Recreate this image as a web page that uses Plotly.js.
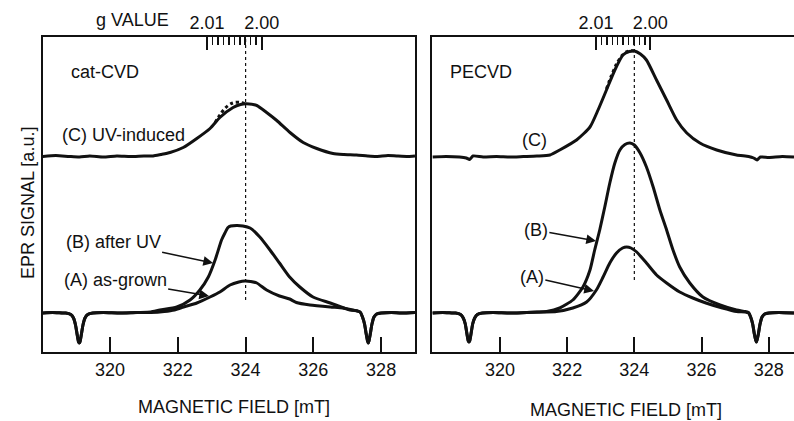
<!DOCTYPE html>
<html>
<head>
<meta charset="utf-8">
<script src="https://cdn.plot.ly/plotly-3.0.1.min.js"></script>
<style>html,body{margin:0;padding:0;background:#fff;overflow:hidden}#chart{width:794px;height:421px}</style>
</head>
<body>
<div id="chart"></div>
<script>
// ---------- data ----------
const fieldTicks = [320, 322, 324, 326, 328];
const gMajor = [2.01, 2.00];
const gMajorLabels = ['2.01', '2.00'];
const gMinor = [2.009, 2.008, 2.007, 2.006, 2.005, 2.004, 2.003, 2.002, 2.001];
const G_TIMES_B = 648.95;   // g x B (mT): g = 2.00 sits at 324.47 mT
const gLine = 324;          // dotted reference line (mT)

// cat-CVD panel
const catA_x = [318.0, 318.3, 318.6, 318.69, 318.84, 318.92, 318.98, 319.03, 319.07, 319.09, 319.11, 319.15, 319.2, 319.26, 319.34, 319.49, 319.8, 320.3, 320.8, 321.2, 321.6, 321.9, 322.17, 322.56, 322.95, 323.24, 323.54, 323.8, 323.98, 324.15, 324.33, 324.62, 325.0, 325.3, 325.5, 325.9, 326.5, 326.87, 327.17, 327.3, 327.38, 327.45, 327.51, 327.56, 327.6, 327.62, 327.64, 327.68, 327.73, 327.79, 327.87, 328.0, 328.3, 328.6, 329.0];
const catA_y = [0, 0.5, 0, 0, -1.5, -5, -12, -22, -29, -30, -29, -22, -12, -5, -1.5, 0, 0.5, 0, 0.5, 0.5, 1.5, 3, 6, 10, 16, 21, 28, 31, 32, 31.5, 30, 23, 17, 14, 10.5, 8, 6, 5, 3, 2, 1, -4, -11, -21, -28, -30, -28, -21, -11, -4, -1, 0, 0.5, 0, 0.5];
const catB_x = [318.0, 318.3, 318.6, 318.69, 318.84, 318.92, 318.98, 319.03, 319.07, 319.09, 319.11, 319.15, 319.2, 319.26, 319.34, 319.49, 319.8, 320.3, 320.8, 321.2, 321.47, 321.97, 322.36, 322.65, 322.9, 323.1, 323.29, 323.39, 323.48, 323.56, 323.75, 323.92, 324.13, 324.42, 324.72, 325.0, 325.3, 325.6, 325.99, 326.5, 327.08, 327.3, 327.38, 327.45, 327.51, 327.56, 327.6, 327.62, 327.64, 327.68, 327.73, 327.79, 327.87, 328.0, 328.3, 328.6, 329.0];
const catB_y = [0, 0.5, 0, 0, -1.5, -5, -12, -22, -29, -30, -29, -22, -12, -5, -1.5, 0, 0.5, 0, 0.5, 1, 3, 6, 13, 23, 36, 53, 73, 80, 85.5, 87, 87.5, 87, 85, 76, 63, 50, 36, 26, 16, 10, 3, 2, 1, -4, -11, -21, -28, -30, -28, -21, -11, -4, -1, 0, 0.5, 0, 0.5];
const catC_x = [318.0, 318.4, 318.8, 319.1, 319.4, 319.8, 320.2, 320.6, 321.0, 321.27, 321.5, 321.77, 322.16, 322.56, 322.95, 323.24, 323.63, 323.85, 324.03, 324.33, 324.62, 324.92, 325.31, 325.7, 326.1, 326.58, 326.9, 327.27, 327.6, 327.86, 328.2, 328.46, 328.8, 329.0];
const catC_y = [0, 1, 0, -0.5, 0.5, -0.5, 0.5, 0, 0.5, 0.5, 2, 4, 9, 18, 28, 39, 49, 52, 52.7, 51, 44, 36, 24, 14, 8, 3, 2, 1.5, 0.5, 0, 1, 0.5, 0, 0.5];
const catCfit_x = [323.1, 323.25, 323.4, 323.55, 323.7, 323.85, 324.0];
const catCfit_y = [34, 42, 48.5, 52.5, 54.2, 54, 52.7];

// PECVD panel
const peA_x = [318.0, 318.3, 318.6, 318.68, 318.83, 318.91, 318.97, 319.02, 319.06, 319.08, 319.1, 319.14, 319.19, 319.25, 319.33, 319.48, 319.8, 320.3, 320.8, 321.3, 321.68, 322.17, 322.58, 322.87, 323.07, 323.27, 323.47, 323.65, 323.77, 323.9, 324.07, 324.36, 324.66, 324.96, 325.35, 325.74, 326.13, 326.62, 327.04, 327.3, 327.4, 327.46, 327.52, 327.57, 327.61, 327.63, 327.65, 327.69, 327.74, 327.8, 327.88, 328.0, 328.3, 328.75];
const peA_y = [0, 0.5, 0, 0, -1.5, -5, -11, -21, -28, -29, -28, -21, -11, -5, -1.5, 0, 0.5, 0, 0.5, 1, 1.5, 5, 11, 23, 36, 50, 60, 65, 66, 65, 61, 50, 38, 30, 21, 15, 10, 5, 1.5, 1, 0, -4, -11, -21, -27, -29, -27, -21, -11, -4, -1, 0, 0.5, 0];
const peB_x = [318.0, 318.3, 318.6, 318.68, 318.83, 318.91, 318.97, 319.02, 319.06, 319.08, 319.1, 319.14, 319.19, 319.25, 319.33, 319.48, 319.8, 320.3, 320.8, 321.1, 321.39, 321.78, 322.17, 322.47, 322.68, 322.82, 322.97, 323.12, 323.27, 323.42, 323.57, 323.72, 323.87, 324.0, 324.17, 324.36, 324.56, 324.76, 324.96, 325.15, 325.35, 325.65, 326.04, 326.55, 327.04, 327.3, 327.4, 327.46, 327.52, 327.57, 327.61, 327.63, 327.65, 327.69, 327.74, 327.8, 327.88, 328.0, 328.3, 328.75];
const peB_y = [0, 0.5, 0, 0, -1.5, -5, -11, -21, -28, -29, -28, -21, -11, -5, -1.5, 0, 0.5, 0, 0.5, 1, 1.5, 5, 13, 26, 43, 63, 83, 106, 130, 150, 163, 168.5, 170, 168, 160, 146, 126, 103, 83, 63, 46, 30, 16, 8, 3, 1.5, 0.5, -4, -11, -21, -27, -29, -27, -21, -11, -4, -1, 0, 0.5, 0];
const peC_x = [318.0, 318.4, 318.8, 319.0, 319.1, 319.2, 319.5, 319.9, 320.3, 320.7, 321.1, 321.49, 321.78, 322.28, 322.68, 322.92, 323.17, 323.42, 323.66, 323.85, 324.0, 324.18, 324.36, 324.66, 324.96, 325.26, 325.56, 325.95, 326.45, 327.04, 327.4, 327.55, 327.65, 327.75, 328.0, 328.4, 328.75];
const peC_y = [0, 0.5, 0, -1, -2.5, 1, 0, 0.5, 0, 0.5, 1, 2, 7, 17, 30, 47, 67, 87, 102, 105.5, 106, 103, 97, 77, 57, 37, 24, 14, 7, 2, 0.5, -1, -3, 0, -0.5, 0.5, 0];
const peCfit_x = [323.17, 323.3, 323.47, 323.62, 323.75, 323.9, 324.0];
const peCfit_y = [68, 80, 93, 101, 105, 106.5, 106];

// ---------- presentation ----------
const C_SHIFT_CAT = 156.5;   // vertical offset of trace (C) in the stack
const C_SHIFT_PE = 156;
const INK = '#111111';
const FONT = {family: 'Liberation Sans, Arial, Helvetica, sans-serif', size: 18, color: INK};
const shift = (arr, d) => arr.map(v => v + d);

function line(x, y, xa, ya, dash, w) {
  return {x: x, y: y, xaxis: xa, yaxis: ya, type: 'scatter', mode: 'lines',
          line: {color: INK, width: w || 3, dash: dash || 'solid', shape: 'spline', smoothing: 0.6},
          hoverinfo: 'skip'};
}

const traces = [
  line(catA_x, catA_y, 'x', 'y'),
  line(catB_x, catB_y, 'x', 'y'),
  line(catC_x, shift(catC_y, C_SHIFT_CAT), 'x', 'y'),
  line(catCfit_x, shift(catCfit_y, C_SHIFT_CAT), 'x', 'y', 'dot', 3),
  line(peA_x, peA_y, 'x2', 'y2'),
  line(peB_x, peB_y, 'x2', 'y2'),
  line(peC_x, shift(peC_y, C_SHIFT_PE), 'x2', 'y2'),
  line(peCfit_x, shift(peCfit_y, C_SHIFT_PE), 'x2', 'y2', 'dot', 3),
  // carriers for the g-value scales
  {x: [null], y: [null], xaxis: 'x3', yaxis: 'y', type: 'scatter', mode: 'lines', hoverinfo: 'skip'},
  {x: [null], y: [null], xaxis: 'x4', yaxis: 'y', type: 'scatter', mode: 'lines', hoverinfo: 'skip'},
  {x: [null], y: [null], xaxis: 'x5', yaxis: 'y2', type: 'scatter', mode: 'lines', hoverinfo: 'skip'},
  {x: [null], y: [null], xaxis: 'x6', yaxis: 'y2', type: 'scatter', mode: 'lines', hoverinfo: 'skip'}
];

const rangeCat = [318.02, 329.0];
const rangePe = [317.98, 328.75];
const yRange = [-39, 276];
const domCat = [43 / 794, 415 / 794];
const domPe = [432 / 794, 1];

const fieldAxis = (dom, range, anchor) => ({
  domain: dom, range: range, anchor: anchor, autorange: false,
  showline: true, mirror: true, linewidth: 2, linecolor: INK,
  ticks: 'inside', ticklen: 15, tickwidth: 2, tickcolor: INK,
  tickvals: fieldTicks, ticktext: fieldTicks.map(String),
  tickfont: FONT, ticklabelstandoff: 0,
  showgrid: false, zeroline: false, fixedrange: true
});
const gAxis = (over, range, vals, labels, len, w) => ({
  overlaying: over, side: 'top', range: range, autorange: false,
  anchor: over === 'x' ? 'y' : 'y2',
  tickvals: vals, ticktext: labels || vals.map(() => ''),
  showticklabels: !!labels,
  ticks: 'inside', ticklen: len, tickwidth: w, tickcolor: INK,
  tickfont: FONT, ticklabelstandoff: 3,
  showline: false, showgrid: false, zeroline: false, fixedrange: true
});

const gMajorB = gMajor.map(g => G_TIMES_B / g);
const gMinorB = gMinor.map(g => G_TIMES_B / g);

const layout = {
  width: 794, height: 421,
  margin: {l: 0, r: 0, t: 37, b: 69},
  paper_bgcolor: '#ffffff', plot_bgcolor: '#ffffff',
  showlegend: false,
  font: FONT,
  xaxis: fieldAxis(domCat, rangeCat, 'y'),
  yaxis: {domain: [0, 1], range: yRange, anchor: 'x', autorange: false,
          showline: true, mirror: true, linewidth: 2, linecolor: INK,
          ticks: '', showticklabels: false, showgrid: false, zeroline: false, fixedrange: true},
  xaxis2: fieldAxis(domPe, rangePe, 'y2'),
  yaxis2: {domain: [0, 1], range: yRange, anchor: 'x2', autorange: false,
           showline: true, mirror: false, linewidth: 2, linecolor: INK,
           ticks: '', showticklabels: false, showgrid: false, zeroline: false, fixedrange: true},
  xaxis3: gAxis('x', rangeCat, gMajorB, gMajorLabels, 13, 2),
  xaxis4: gAxis('x', rangeCat, gMinorB, null, 8, 1.5),
  xaxis5: gAxis('x2', rangePe, gMajorB, gMajorLabels, 13, 2),
  xaxis6: gAxis('x2', rangePe, gMinorB, null, 8, 1.5),
  shapes: [
    {type: 'line', xref: 'x', yref: 'y', x0: gLine, x1: gLine, y0: 13, y1: 276,
     line: {color: INK, width: 1.2, dash: 'dot'}},
    {type: 'line', xref: 'x2', yref: 'y2', x0: gLine, x1: gLine, y0: 33, y1: 276,
     line: {color: INK, width: 1.2, dash: 'dot'}}
  ],
  annotations: [
    {xref: 'paper', yref: 'paper', x: 132 / 794, y: (352 - 20) / 315, text: 'g VALUE',
     showarrow: false, font: FONT, xanchor: 'center', yanchor: 'middle'},
    {xref: 'paper', yref: 'paper', x: 28 / 794, y: (352 - 203) / 315, text: 'EPR SIGNAL [a.u.]',
     textangle: -90, showarrow: false, font: FONT, xanchor: 'center', yanchor: 'middle'},
    {xref: 'paper', yref: 'paper', x: 234.5 / 794, y: (352 - 407) / 315, text: 'MAGNETIC FIELD [mT]',
     showarrow: false, font: FONT, xanchor: 'center', yanchor: 'middle'},
    {xref: 'paper', yref: 'paper', x: 625.5 / 794, y: (352 - 410) / 315, text: 'MAGNETIC FIELD [mT]',
     showarrow: false, font: FONT, xanchor: 'center', yanchor: 'middle'},
    {xref: 'x', yref: 'y', x: 319.86, y: 241, text: 'cat-CVD', showarrow: false, font: FONT},
    {xref: 'x2', yref: 'y2', x: 319.43, y: 241, text: 'PECVD', showarrow: false, font: FONT},
    {xref: 'x', yref: 'y', x: 320.40, y: 178, text: '(C) UV-induced', showarrow: false, font: FONT},
    {xref: 'x', yref: 'y', x: 323.04, y: 50, axref: 'x', ayref: 'y', ax: 320.09, ay: 71,
     text: '(B) after UV', showarrow: true, arrowhead: 2, arrowsize: 1.3, arrowwidth: 1.5,
     arrowcolor: INK, standoff: 0, font: FONT},
    {xref: 'x', yref: 'y', x: 322.92, y: 17, axref: 'x', ayref: 'y', ax: 320.15, ay: 33,
     text: '(A) as-grown', showarrow: true, arrowhead: 2, arrowsize: 1.3, arrowwidth: 1.5,
     arrowcolor: INK, standoff: 0, font: FONT},
    {xref: 'x2', yref: 'y2', x: 321.04, y: 173, text: '(C)', showarrow: false, font: FONT},
    {xref: 'x2', yref: 'y2', x: 322.86, y: 72, axref: 'x2', ayref: 'y2', ax: 321.07, ay: 83,
     text: '(B)', showarrow: true, arrowhead: 2, arrowsize: 1.3, arrowwidth: 1.5,
     arrowcolor: INK, standoff: 0, font: FONT},
    {xref: 'x2', yref: 'y2', x: 322.80, y: 22, axref: 'x2', ayref: 'y2', ax: 320.95, ay: 36,
     text: '(A)', showarrow: true, arrowhead: 2, arrowsize: 1.3, arrowwidth: 1.5,
     arrowcolor: INK, standoff: 0, font: FONT}
  ]
};

Plotly.newPlot('chart', traces, layout, {staticPlot: true, displayModeBar: false});
</script>
</body>
</html>
